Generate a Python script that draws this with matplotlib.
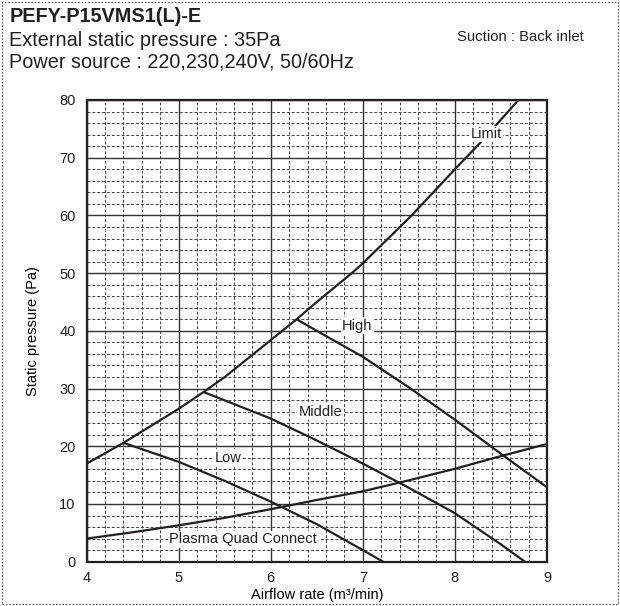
import matplotlib

matplotlib.use("Agg")
import matplotlib.pyplot as plt
from matplotlib.patches import Rectangle

plt.rcParams.update(
    {
        "font.family": ["Liberation Sans", "DejaVu Sans"],
        "font.size": 10.5,
        "text.color": "#231f20",
        "xtick.color": "#231f20",
        "ytick.color": "#231f20",
    }
)

# fan curves (airflow m3/min, static pressure Pa)
limit_x = [4.0, 4.4, 5.0, 5.27, 5.5, 6.0, 6.28, 6.5, 6.88, 7.0, 7.53, 8.0, 8.3, 8.69]
limit_y = [17.0, 20.6, 26.5, 29.4, 32.0, 38.4, 42.0, 45.0, 50.0, 51.7, 60.0, 68.0, 73.0, 80.0]

high_x = [6.28, 6.5, 7.0, 7.5, 8.0, 8.5, 9.0]
high_y = [42.0, 40.0, 35.5, 30.2, 24.6, 18.7, 12.9]

middle_x = [5.27, 6.0, 6.5, 7.0, 7.5, 8.0, 8.5, 8.76]
middle_y = [29.4, 24.8, 21.0, 17.0, 12.8, 8.4, 3.0, 0.0]

low_x = [4.4, 5.0, 5.5, 6.0, 6.5, 7.0, 7.22]
low_y = [20.6, 17.3, 14.0, 10.4, 6.5, 2.0, 0.0]

pqc_x = [4.0, 4.5, 5.0, 5.5, 6.0, 6.5, 7.0, 7.5, 8.0, 8.5, 9.0]
pqc_y = [4.0, 5.1, 6.3, 7.6, 9.1, 10.7, 12.2, 14.1, 16.1, 18.3, 20.4]

# curve labels: text, x, y
curve_labels = [
    ("Limit", 8.34, 74.1),
    ("High", 6.94, 40.9),
    ("Middle", 6.54, 26.0),
    ("Low", 5.54, 18.0),
    ("Plasma Quad Connect", 5.70, 3.9),
]

x_ticks = [4, 5, 6, 7, 8, 9]
y_ticks = [0, 10, 20, 30, 40, 50, 60, 70, 80]

LINE = "#231f20"

fig = plt.figure(figsize=(6.2, 6.06), dpi=100)

# dotted frame around the whole sheet
fig.patches.append(
    Rectangle(
        (0.003, 0.003), 0.993, 0.993, transform=fig.transFigure,
        fill=False, edgecolor="#555555", linewidth=0.8, linestyle=(0, (1.5, 1.5)),
    )
)

fig.text(0.015, 1 - 21.5 / 606, "PEFY-P15VMS1(L)-E", fontsize=14.3, fontweight="bold", va="baseline")
fig.text(0.015, 1 - 46 / 606, "External static pressure : 35Pa", fontsize=14.3, va="baseline")
fig.text(0.015, 1 - 67 / 606, "Power source : 220,230,240V, 50/60Hz", fontsize=14.3, va="baseline")
fig.text(457 / 620, 1 - 40.7 / 606, "Suction : Back inlet", fontsize=10.7, va="baseline")

ax = fig.add_axes([0.1398, 0.0731, 0.7424, 0.7619])

for xs, ys in [(limit_x, limit_y), (high_x, high_y), (middle_x, middle_y),
               (low_x, low_y), (pqc_x, pqc_y)]:
    ax.plot(xs, ys, color=LINE, linewidth=1.6, zorder=3, solid_capstyle="butt")

for text, lx, ly in curve_labels:
    ax.text(lx, ly, text, ha="center", va="center", fontsize=10.5, zorder=4,
            bbox=dict(facecolor="white", edgecolor="none", pad=1.0))

ax.set_xlim(4, 9)
ax.set_ylim(0, 80)
ax.set_xticks(x_ticks)
ax.set_yticks(y_ticks)
ax.set_xticks([4 + 0.2 * i for i in range(26)], minor=True)
ax.set_yticks(list(range(0, 81, 2)), minor=True)
ax.tick_params(which="both", length=0)
ax.tick_params(axis="x", pad=7, labelsize=10.5)
ax.tick_params(axis="y", pad=8, labelsize=10.5)

ax.grid(which="major", color="#333333", linewidth=1.0, zorder=1)
ax.grid(which="minor", color="#444444", linewidth=0.7, linestyle=(0, (3, 2)), zorder=1)
ax.set_axisbelow(True)
for sp in ax.spines.values():
    sp.set_linewidth(1.6)
    sp.set_color(LINE)

ax.set_xlabel("Airflow rate (m³/min)", fontsize=10.5, labelpad=2)
ax.set_ylabel("Static pressure (Pa)", fontsize=10.5, labelpad=14)

fig.savefig("out.png", dpi=100)
